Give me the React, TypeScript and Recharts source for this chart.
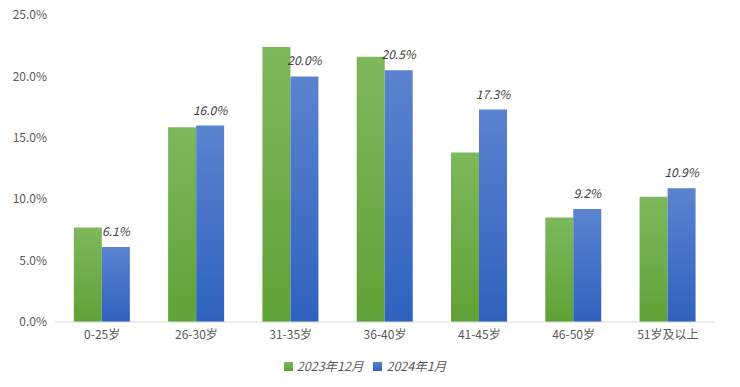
import { BarChart, Bar, XAxis, YAxis, Legend, LabelList } from 'recharts';

const categories = ['0-25岁', '26-30岁', '31-35岁', '36-40岁', '41-45岁', '46-50岁', '51岁及以上'];
const dec2023 = [7.7, 15.85, 22.4, 21.6, 13.8, 8.5, 10.2];
const jan2024 = [6.1, 16.0, 20.0, 20.5, 17.3, 9.2, 10.9];
const yTicks = [0, 5, 10, 15, 20, 25];

const data = categories.map((name, i) => ({ name, dec: dec2023[i], jan: jan2024[i] }));

const FONT = '"Noto Sans CJK SC", "Noto Sans", sans-serif';
const pct = (v: number) => `${Number(v).toFixed(1)}%`;

export default function App() {
  return (
    <div style={{ margin: -8, width: 740, height: 387, background: '#fff', fontFamily: FONT }}>
      <BarChart
        width={740}
        height={387}
        data={data}
        margin={{ top: 15, right: 25, left: 0, bottom: 11 }}
        barCategoryGap="20%"
        barGap={0}
      >
        <defs>
          <linearGradient id="gGreen" x1="0" y1="0" x2="0" y2="1">
            <stop offset="0%" stopColor="#7db85c" />
            <stop offset="100%" stopColor="#5fa236" />
          </linearGradient>
          <linearGradient id="gBlue" x1="0" y1="0" x2="0" y2="1">
            <stop offset="0%" stopColor="#5b83cf" />
            <stop offset="100%" stopColor="#2f62bf" />
          </linearGradient>
        </defs>
        <XAxis
          dataKey="name"
          height={30}
          tickLine={false}
          axisLine={{ stroke: '#d9d9d9' }}
          tick={{ fontSize: 12, fill: '#595959', fontFamily: FONT }}
          interval={0}
        />
        <YAxis
          width={55}
          domain={[0, 25]}
          ticks={yTicks}
          tickFormatter={pct}
          axisLine={false}
          tickLine={false}
          tick={{ fontSize: 12, fill: '#595959', fontFamily: FONT }}
        />
        <Legend
          verticalAlign="bottom"
          iconType="square"
          iconSize={9}
          wrapperStyle={{ left: 0, width: 740 }}
          formatter={(value) => (
            <span style={{ color: '#595959', fontStyle: 'italic', fontSize: 12.5, fontFamily: FONT }}>{value}</span>
          )}
        />
        <Bar dataKey="dec" name="2023年12月" fill="url(#gGreen)" legendType="square" isAnimationActive={false} />
        <Bar dataKey="jan" name="2024年1月" fill="url(#gBlue)" legendType="square" isAnimationActive={false}>
          <LabelList
            dataKey="jan"
            position="top"
            offset={11}
            formatter={pct}
            style={{ fontSize: 12, fill: '#404040', fontStyle: 'italic', fontFamily: FONT }}
          />
        </Bar>
      </BarChart>
    </div>
  );
}
